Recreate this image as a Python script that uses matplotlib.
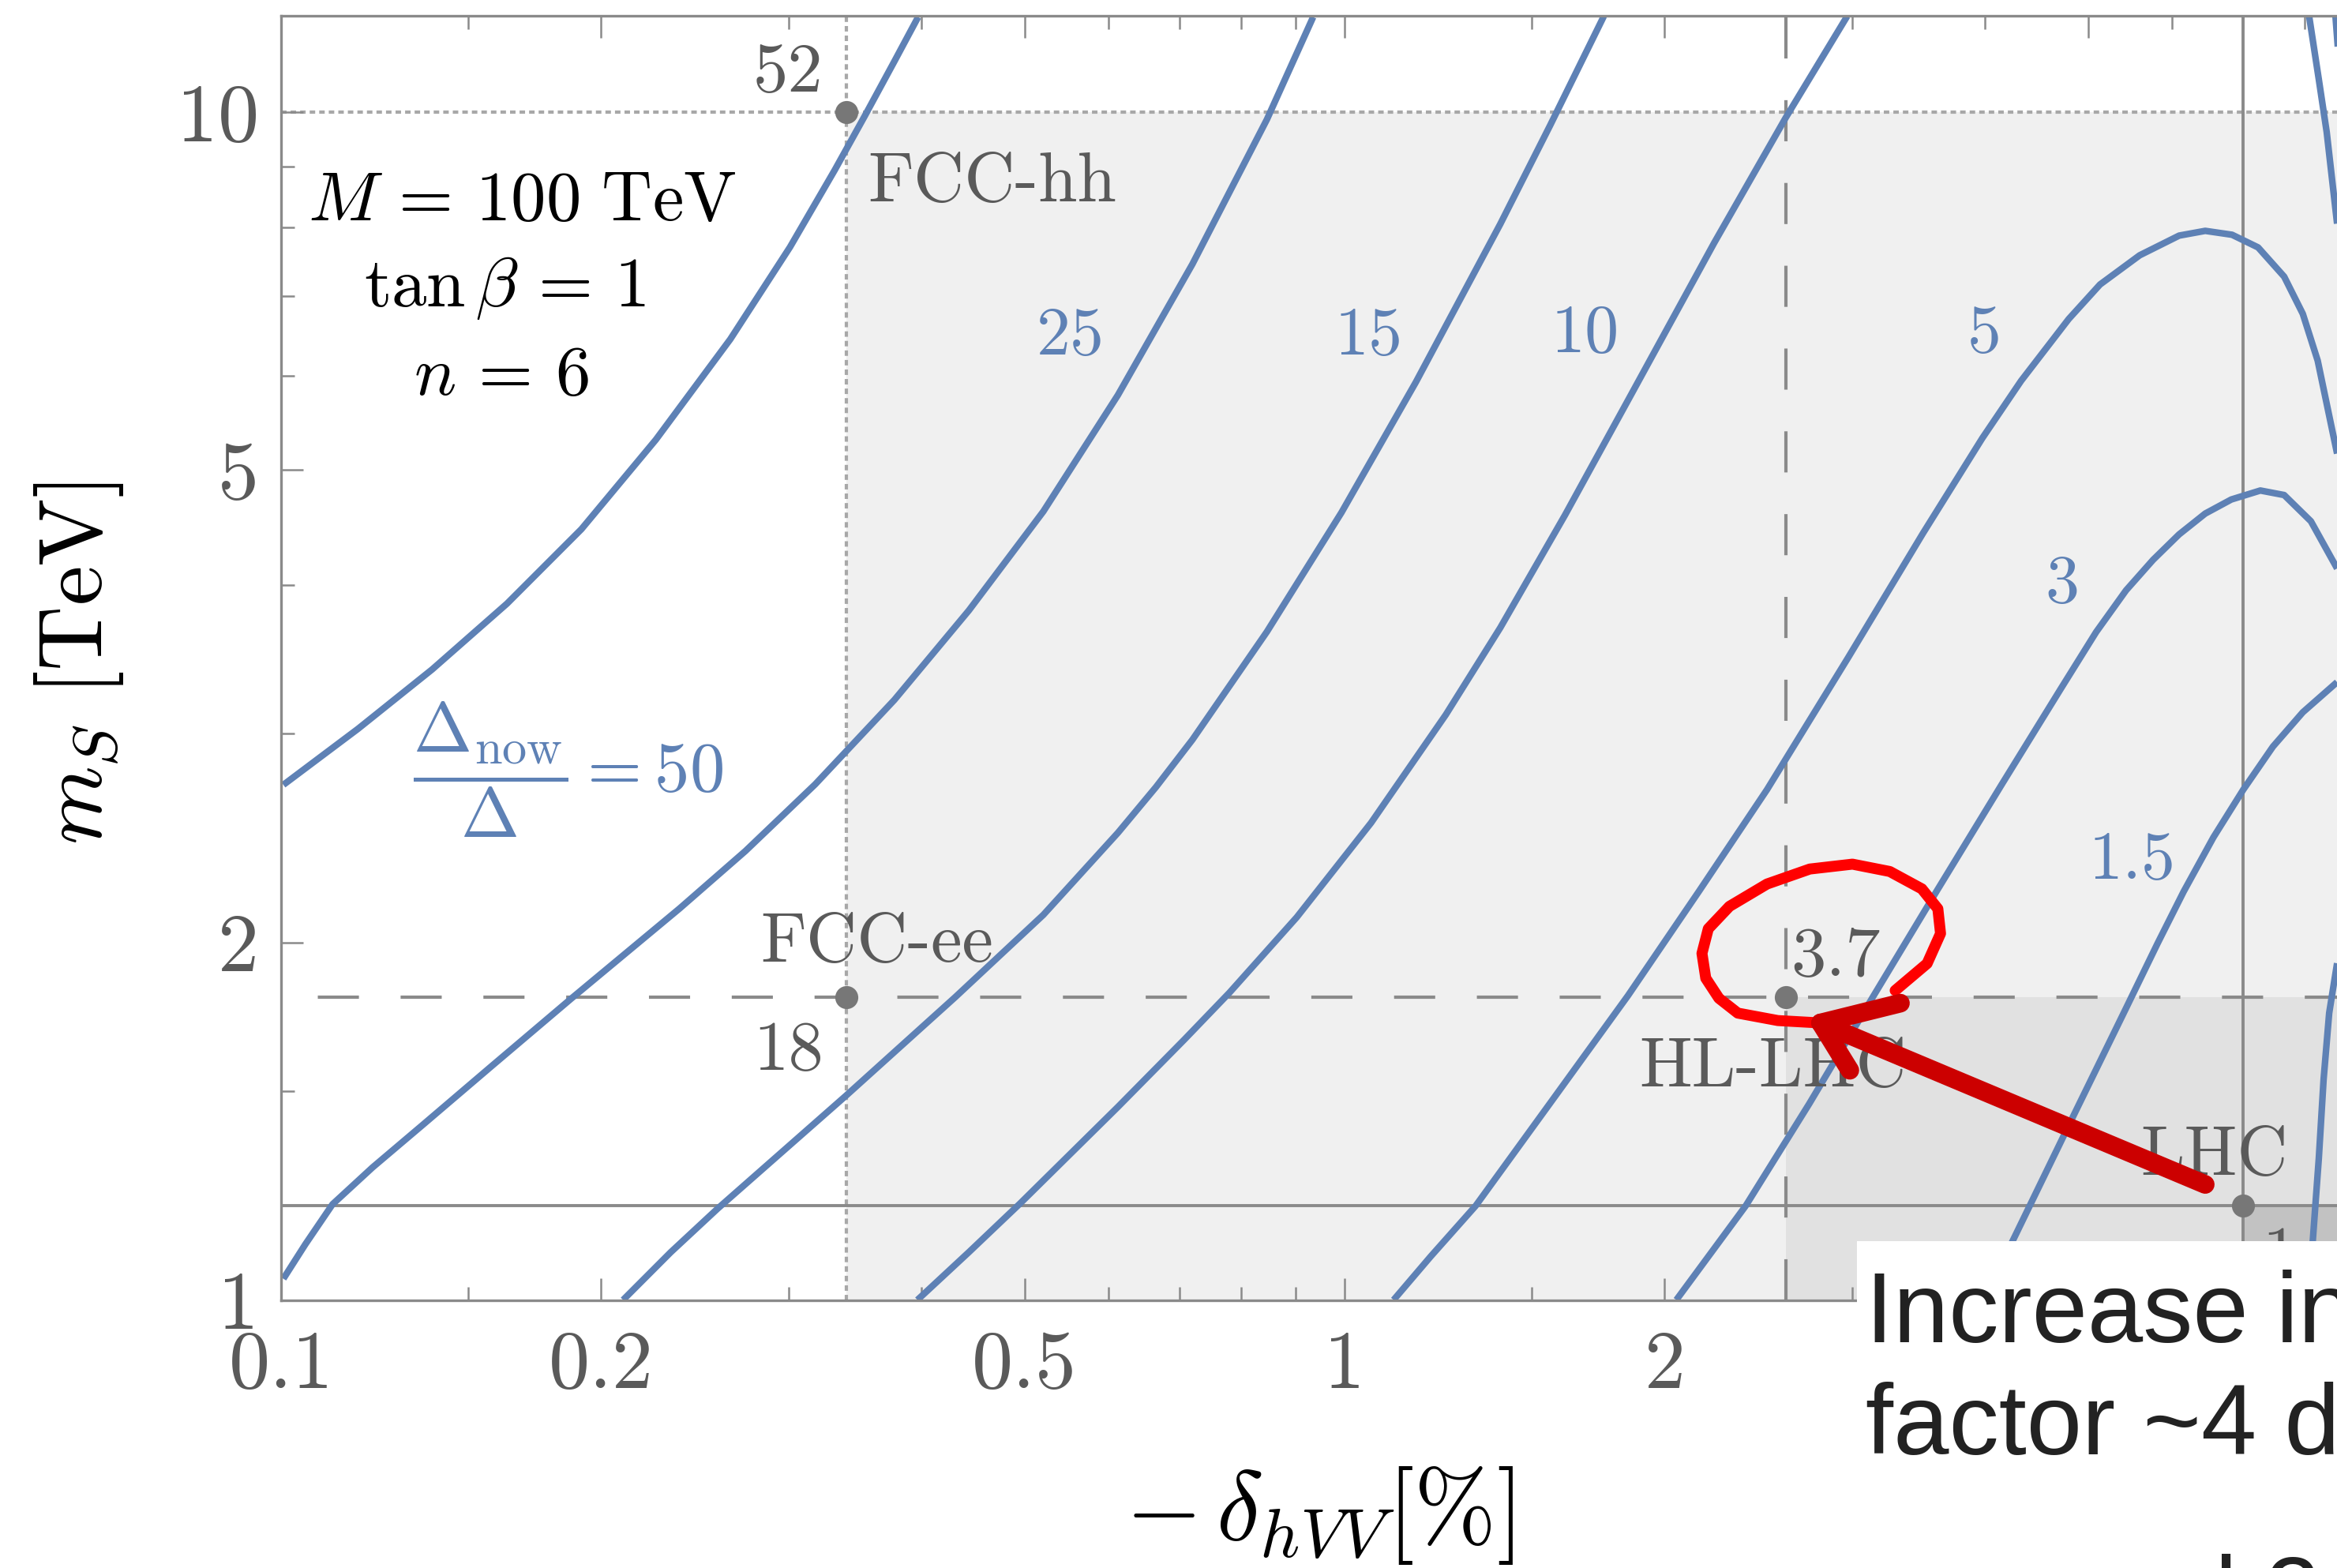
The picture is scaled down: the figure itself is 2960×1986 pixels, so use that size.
import matplotlib
matplotlib.use("Agg")
import matplotlib.pyplot as plt
from matplotlib.patches import Rectangle
from matplotlib.ticker import NullFormatter

plt.rcParams["mathtext.fontset"] = "cm"
plt.rcParams["lines.scale_dashes"] = False

# contours of Delta_now/Delta
# x = -delta_hVV [%], y = m_S [TeV]
c50_x = [0.1005, 0.1181, 0.1387, 0.1631, 0.1916, 0.2251, 0.2645, 0.3010, 0.3316,
         0.3537, 0.3773, 0.3972]
c50_y = [2.715, 3.026, 3.396, 3.858, 4.457, 5.301, 6.442, 7.702, 8.942, 9.923,
         11.04, 12.03]
c25_x = [0.1005, 0.1054, 0.1118, 0.1219, 0.1360, 0.1578, 0.1876, 0.2371, 0.2733,
         0.3179, 0.3773, 0.4433, 0.5209, 0.6122, 0.7193, 0.8452, 0.9342]
c25_y = [1.042, 1.114, 1.204, 1.293, 1.405, 1.574, 1.795, 2.137, 2.388, 2.718,
         3.201, 3.807, 4.613, 5.781, 7.451, 9.863, 12.03]
c15_x = [0.2097, 0.2325, 0.2574, 0.3395, 0.4305, 0.5209, 0.6122, 0.6647, 0.7193,
         0.8452, 0.9933, 1.167, 1.401, 1.561, 1.753]
c15_y = [1.0, 1.097, 1.194, 1.485, 1.799, 2.110, 2.474, 2.703, 2.963, 3.653,
         4.603, 5.928, 8.054, 9.756, 12.05]
c10_x = [0.3966, 0.4433, 0.4950, 0.6122, 0.7070, 0.7792, 0.9016, 1.059, 1.245,
         1.401, 1.612, 1.859, 2.226, 2.599, 2.969]
c10_y = [1.0, 1.097, 1.205, 1.454, 1.657, 1.814, 2.100, 2.522, 3.110, 3.682,
         4.582, 5.782, 7.764, 9.897, 12.05]
c5_x = [1.112, 1.205, 1.328, 1.561, 1.847, 2.155, 2.496, 2.976, 3.497, 3.978,
        4.327, 4.797, 5.133, 5.593, 6.092, 6.446, 6.831, 7.227, 7.647, 7.962,
        8.223, 8.576]
c5_y = [1.0, 1.088, 1.200, 1.465, 1.804, 2.210, 2.690, 3.476, 4.419, 5.317,
        5.943, 6.700, 7.163, 7.580, 7.875, 7.948, 7.888, 7.697, 7.273, 6.767,
        6.180, 5.161]
c3_x = [2.051, 2.383, 2.735, 3.143, 3.611, 4.149, 4.714, 5.090, 5.431, 5.758,
        6.091, 6.446, 6.820, 7.263, 7.647, 8.103, 8.576]
c3_y = [1.0, 1.200, 1.463, 1.803, 2.216, 2.717, 3.270, 3.651, 3.959, 4.200,
        4.412, 4.594, 4.721, 4.804, 4.762, 4.526, 4.130]
c1p5_x = [4.196, 4.851, 5.431, 5.815, 6.151, 6.561, 6.998, 7.464, 7.962, 8.575]
c1p5_y = [1.096, 1.432, 1.761, 1.997, 2.207, 2.452, 2.689, 2.924, 3.125, 3.313]
# pieces of further contours at the right edge
edge1_x = [8.117, 8.243, 8.329, 8.43, 8.576]
edge1_y = [1.09, 1.316, 1.534, 1.744, 1.921]
edge2_x = [8.072, 8.243, 8.385, 8.576]
edge2_y = [12.05, 10.66, 9.625, 8.06]
edge3_x = [8.546, 8.605]
edge3_y = [12.05, 11.11]

contours = [(c50_x, c50_y), (c25_x, c25_y), (c15_x, c15_y), (c10_x, c10_y),
            (c5_x, c5_y), (c3_x, c3_y), (c1p5_x, c1p5_y),
            (edge1_x, edge1_y), (edge2_x, edge2_y), (edge3_x, edge3_y)]

# experiments: reach in -delta_hVV and in m_S
fcc_ee_dv = 0.34
hl_lhc_dv = 2.6
lhc_dv = 7.0
fcc_hh_ms = 10.0
hl_lhc_ms = 1.8
lhc_ms = 1.2
pts_x = [0.34, 0.34, 2.6, 7.0]
pts_y = [10.0, 1.8, 1.8, 1.2]

# hand drawn red marks
circle_x = [3.294, 3.53, 3.634, 3.613, 3.49, 3.256, 3.003, 2.738, 2.496, 2.301,
            2.198, 2.168, 2.186, 2.249, 2.343, 2.555, 2.803]
circle_y = [1.822, 1.920, 2.035, 2.135, 2.219, 2.295, 2.328, 2.306, 2.240, 2.145,
            2.054, 1.958, 1.866, 1.795, 1.744, 1.719, 1.711]
arrow_x = [6.446, 2.803]
arrow_y = [1.251, 1.711]
head1_x = [2.803, 3.332]
head1_y = [1.711, 1.778]
head2_x = [2.803, 2.986]
head2_y = [1.711, 1.561]

blue = "#5e81b5"
gray = "#5a5a5a"
line_gray = "#8a8a8a"

W, H = 2960, 1986
fig = plt.figure(figsize=(W / 100, H / 100), dpi=100)
ax = fig.add_axes([356 / W, 1 - 1646.5 / H, 2 * 1347 / W, 1626.5 / H])
ax.set_xscale("log")
ax.set_yscale("log")
ax.set_xlim(0.1, 10)
ax.set_ylim(1, 12.06)

# shaded regions
ax.fill_between([fcc_ee_dv, 10], 1, fcc_hh_ms, color="#f0f0f0", lw=0, zorder=0)
ax.fill_between([hl_lhc_dv, 10], 1, hl_lhc_ms, color="#e1e1e1", lw=0, zorder=0.1)
ax.fill_between([lhc_dv, 10], 1, lhc_ms, color="#c2c2c2", lw=0, zorder=0.2)

# experiment lines
ax.axvline(fcc_ee_dv, color="#a8a8a8", lw=3, ls=(0, (5, 3.7)), zorder=1)
ax.axhline(fcc_hh_ms, color="#a8a8a8", lw=3, ls=(0, (5, 3.7)), zorder=1)
ax.axvline(hl_lhc_dv, color=line_gray, lw=3, ls=(0, (37.5, 38)), zorder=1)
ax.axhline(hl_lhc_ms, color=line_gray, lw=3, ls=(42, (37.5, 38)), zorder=1)
ax.axvline(lhc_dv, color=line_gray, lw=2.8, zorder=1)
ax.axhline(lhc_ms, color=line_gray, lw=2.8, zorder=1)

for xs, ys in contours:
    ax.plot(xs, ys, color=blue, lw=6, solid_capstyle="butt", solid_joinstyle="round", zorder=2)

ax.plot(pts_x, pts_y, "o", ms=21, color="#777777", mec="none", zorder=4)

# contour labels
lab = dict(color=blue, family="cmr10", fontsize=62, ha="center", va="baseline", zorder=3)
ax.text(0.5527, 6.249, "25", **lab)
ax.text(1.054, 6.249, "15", **lab)
ax.text(1.684, 6.28, "10", **lab)
ax.text(3.994, 6.28, "5", **lab)
ax.text(4.73, 3.868, "3", **lab)
ax.text(5.499, 2.263, "1.5", **lab)
ax.text(0.1863, 2.795, r"$\dfrac{\Delta_{\mathrm{now}}}{\Delta} = 50$", color=blue,
        fontsize=64, ha="center", va="center", zorder=3)

# experiment labels
g = dict(color=gray, family="cmr10", fontsize=64, va="baseline", zorder=3)
ax.text(0.3231, 10.41, "52", ha="right", **g)
ax.text(0.356, 8.412, "FCC-hh", ha="left", **g)
ax.text(0.2823, 1.927, "FCC-ee", ha="left", **g)
ax.text(0.3236, 1.562, "18", ha="right", **g)
ax.text(2.627, 1.875, "3.7", ha="left", **g)
ax.text(2.527, 1.513, "HL-LHC", ha="center", **g)
ax.text(6.578, 1.275, "LHC", ha="center", **g)
ax.text(7.29, 1.154, "1", color=gray, family="cmr10", fontsize=64, ha="left", va="top", zorder=3)

# parameters
par = dict(color="black", fontsize=64, ha="center", va="baseline", zorder=3)
ax.text(0.1684, 8.108, r"$M\, =\, 100\ \mathrm{TeV}$", **par)
ax.text(0.1625, 6.864, r"$\tan\beta\, =\, 1$", **par)
ax.text(0.1611, 5.781, r"$n\, =\, 6$", **par)

# ticks
xmaj = [0.1, 0.2, 0.5, 1, 2, 5, 10]
xmin = [0.15, 0.3, 0.4, 0.6, 0.7, 0.8, 0.9, 1.5, 3, 4, 6, 7, 8, 9]
ymaj = [1, 2, 5, 10]
ymin = [1.5, 3, 4, 6, 7, 8, 9]
ax.set_xticks(xmaj)
ax.set_xticklabels(["0.1", "0.2", "0.5", "1", "2", "5", "10"], family="cmr10",
                   fontsize=75, color=gray)
ax.set_xticks(xmin, minor=True)
ax.set_yticks(ymaj)
ax.set_yticklabels(["1", "2", "5", "10"], family="cmr10", fontsize=75, color=gray)
ax.set_yticks(ymin, minor=True)
ax.xaxis.set_minor_formatter(NullFormatter())
ax.yaxis.set_minor_formatter(NullFormatter())
ax.tick_params(which="both", direction="in", top=True, right=True, color=line_gray, width=1.8)
ax.tick_params(which="major", length=20)
ax.tick_params(which="minor", length=12)
ax.tick_params(axis="x", which="major", pad=28)
ax.tick_params(axis="y", which="major", pad=20)
for s in ax.spines.values():
    s.set_color(line_gray)
    s.set_linewidth(2.4)

fig.text(1671 / W, 1 - 1920 / H, r"$-\,\delta_{hVV}[\%]$", fontsize=90, ha="center", va="center")
fig.text(100 / W, 1 - 840 / H, r"$m_S\ [\mathrm{TeV}]$", fontsize=82, rotation=90,
         ha="center", va="center")

# red hand-drawn annotation
ax.plot(circle_x, circle_y, color="#ff0000", lw=10, solid_capstyle="round",
        solid_joinstyle="round", zorder=6)
for xs, ys in [(arrow_x, arrow_y), (head1_x, head1_y), (head2_x, head2_y)]:
    ax.plot(xs, ys, color="#cc0000", lw=17, solid_capstyle="round", zorder=7)

# white note box over the corner
fig.add_artist(Rectangle((2352 / W, 0), 1, (H - 1572) / H, transform=fig.transFigure,
                         facecolor="white", edgecolor="none", zorder=10))
note = dict(fontsize=91, family="Liberation Sans", color="#222222", va="baseline", zorder=11)
fig.text(2363 / W, 1 - 1700 / H, "Increase in", **note)
fig.text(2363 / W, 1 - 1842 / H, "factor ~4 d", **note)
fig.text(2363 / W, 1 - 2060 / H, "season l 2", **note)

fig.savefig("out.png", dpi=100)
